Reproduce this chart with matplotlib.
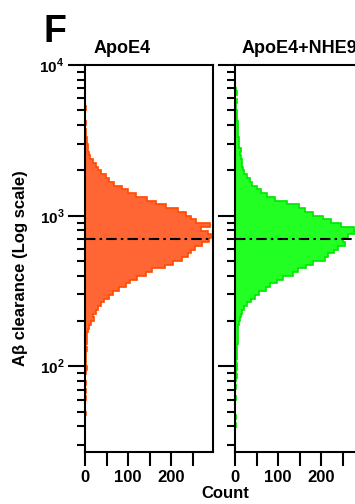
import numpy as np
import matplotlib
matplotlib.use("Agg")
import matplotlib.pyplot as plt

plt.rcParams['font.family'] = ['Liberation Sans', 'DejaVu Sans']
plt.rcParams['font.weight'] = 'bold'
plt.rcParams['mathtext.fontset'] = 'custom'
plt.rcParams['mathtext.rm'] = 'Liberation Sans:bold'
plt.rcParams['mathtext.bf'] = 'Liberation Sans:bold'

# log10 bin range (top -> bottom), counts listed from top bin down
log_top = 3.85
log_bottom = 1.55

apoe4_counts = [0, 0, 0, 0, 0, 2, 0, 0, 1, 2, 0, 3, 3, 4, 4, 6, 8, 9, 12, 18,
                25, 30, 38, 48, 55, 68, 85, 100, 118, 145, 165, 188, 215, 235,
                245, 258, 290, 270, 285, 292, 288, 272, 255, 245, 238, 225,
                205, 185, 155, 142, 120, 105, 95, 78, 66, 55, 45, 36, 30, 25,
                19, 22, 14, 9, 8, 5, 4, 4, 3, 4, 3, 2, 2, 3, 5, 3, 0, 1, 2, 1,
                2, 1, 2, 1, 0, 0, 2, 1, 0, 0, 0, 0]

nhe9_counts = [3, 4, 0, 4, 3, 2, 4, 5, 4, 6, 7, 6, 8, 9, 10, 9, 13, 12, 15, 17,
               16, 18, 22, 28, 34, 40, 52, 60, 75, 92, 120, 148, 162, 180, 205,
               222, 245, 275, 290, 262, 250, 256, 240, 230, 216, 208, 180, 165,
               147, 135, 112, 98, 82, 72, 56, 47, 37, 28, 20, 16, 14, 12, 10, 8,
               7, 7, 6, 6, 5, 4, 5, 4, 3, 4, 4, 3, 4, 3, 0, 2, 0, 0, 2, 1, 0, 0,
               0, 2, 1, 2, 0, 0]

median_value = 705
titles = ['ApoE4', 'ApoE4+NHE9']
fills = ['#FF6633', '#22FF22']
edges_c = ['#FF4A00', '#00E600']
title_x = [0.07, 0.055]
x_ticks = [0, 50, 100, 150, 200, 250]
x_labels = ['0', '', '100', '', '200', '']

fig = plt.figure(figsize=(3.55, 5.04), dpi=100)
lefts = [85 / 355, 235 / 355]
axes = [fig.add_axes([l, 0.1032, 128 / 355, 387 / 504]) for l in lefts]

bin_edges = 10 ** np.linspace(log_bottom, log_top, len(apoe4_counts) + 1)

for ax, counts, title, fc, ec, tx in zip(axes, [apoe4_counts, nhe9_counts],
                                         titles, fills, edges_c, title_x):
    vals = np.array(counts[::-1], dtype=float)
    ax.stairs(vals, bin_edges, orientation='horizontal', fill=True,
              facecolor=fc, edgecolor=ec, linewidth=0)
    ax.stairs(vals, bin_edges, orientation='horizontal', fill=False,
              color=ec, linewidth=1.2)
    ax.axhline(median_value, color='black', linestyle=(0, (5, 2, 1.2, 2)),
               linewidth=1.5)
    ax.set_yscale('log')
    ax.set_ylim(27, 10000)
    ax.set_xlim(0, 297)
    ax.set_yticks([100, 1000, 10000])
    ax.set_yticks([v * d for d in [10, 100, 1000] for v in range(2, 10)
                   if 27 <= v * d <= 10000], minor=True)
    ax.set_xticks(x_ticks)
    ax.set_xticklabels(x_labels, fontsize=12, fontweight='bold')
    ax.tick_params(axis='y', which='major', length=12, width=1.5, pad=3)
    ax.tick_params(axis='y', which='minor', length=6, width=1.5)
    ax.tick_params(axis='x', which='major', length=10, width=1.5, pad=3)
    for s in ax.spines.values():
        s.set_linewidth(1.5)
    ax.text(tx, 1.02, title, transform=ax.transAxes, fontsize=13,
            fontweight='bold', ha='left', va='bottom')

axes[0].set_yticklabels([r'$10^{2}$', r'$10^{3}$', r'$10^{4}$'], fontsize=11)
axes[1].set_yticklabels([])

fig.text(21 / 355, 1 - 268 / 504, 'Aβ clearance (Log scale)',
         rotation=90, ha='center', va='center', fontsize=12, fontweight='bold')
fig.text(225 / 355, 1 - 486 / 504, 'Count', ha='center', va='top',
         fontsize=12, fontweight='bold')
fig.text(44 / 355, 1 - 42 / 504, 'F', ha='left', va='baseline',
         fontsize=27, fontweight='bold')

fig.savefig('out.png', dpi=100)
